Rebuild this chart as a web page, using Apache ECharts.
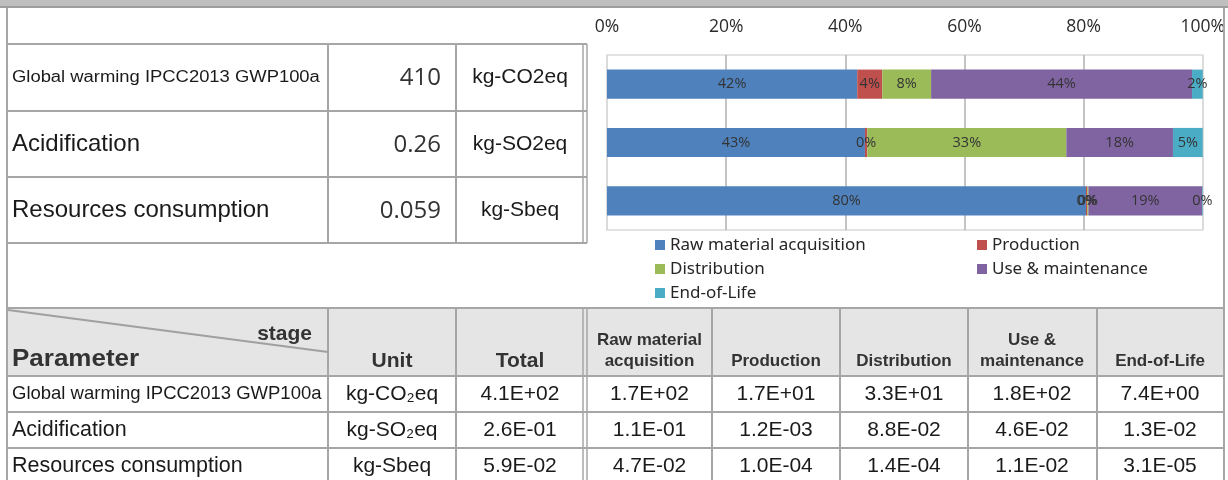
<!DOCTYPE html>
<html>
<head>
<meta charset="utf-8">
<script src="https://cdn.jsdelivr.net/npm/echarts@6/dist/echarts.min.js"></script>
<style>
html,body{margin:0;padding:0;background:#fff;}
#c{width:1228px;height:480px;}
</style>
</head>
<body>
<div id="c"></div>
<script>
// ---- data ----
const categories = ['Global warming IPCC2013 GWP100a', 'Acidification', 'Resources consumption'];
const stages = ['Raw material acquisition', 'Production', 'Distribution', 'Use & maintenance', 'End-of-Life'];
const rawShare = [42.0, 43.3, 80.4];
const productionShare = [4.2, 0.4, 0.2];
const distributionShare = [8.2, 33.4, 0.2];
const useShare = [43.8, 17.9, 19.1];
const eolShare = [1.8, 5.0, 0.1];
const xTicks = [0, 20, 40, 60, 80, 100];

const summaryValues = ['410', '0.26', '0.059'];
const summaryUnits = ['kg-CO2eq', 'kg-SO2eq', 'kg-Sbeq'];

const tableUnits = ['kg-CO\u2082eq', 'kg-SO\u2082eq', 'kg-Sbeq'];
const tableTotals = ['4.1E+02', '2.6E-01', '5.9E-02'];
const tableRaw = ['1.7E+02', '1.1E-01', '4.7E-02'];
const tableProduction = ['1.7E+01', '1.2E-03', '1.0E-04'];
const tableDistribution = ['3.3E+01', '8.8E-02', '1.4E-04'];
const tableUse = ['1.8E+02', '4.6E-02', '1.1E-02'];
const tableEol = ['7.4E+00', '1.3E-02', '3.1E-05'];
const headerStages = [['Raw material', 'acquisition'], ['Production'], ['Distribution'], ['Use &', 'maintenance'], ['End-of-Life']];

const colors = ['#4f81bd', '#c0504d', '#9bbb59', '#8064a2', '#4bacc6'];
const shares = [rawShare, productionShare, distributionShare, useShare, eolShare];

// ---- graphic table ----
const LINE = '#a6a6a6';
const g = [];
function hline(y, x1, x2, w, c) { g.push({type:'line', z:1, silent:true, shape:{x1:x1, y1:y, x2:x2, y2:y}, style:{stroke:c||LINE, lineWidth:w||2}}); }
function vline(x, y1, y2, w, c) { g.push({type:'line', z:1, silent:true, shape:{x1:x, y1:y1, x2:x, y2:y2}, style:{stroke:c||LINE, lineWidth:w||2}}); }
function txt(t, x, y, opt) {
  const o = opt || {};
  g.push({type:'text', z:5, silent:true, x:x, y:y, scaleX:o.sx||1,
    style:{text:t, fontFamily:o.ff||'"Liberation Sans", Arial, sans-serif', fontSize:o.fs||21,
      fontWeight:o.fw||'normal', fill:o.c||'#1a1a1a', align:o.al||'left', verticalAlign:'middle'}});
}

// title band
g.push({type:'rect', z:0, silent:true, shape:{x:0, y:0, width:1228, height:6}, style:{fill:'#bebfbe'}});
hline(7, 0, 1228, 2, '#9d9d9d');
// outer borders
vline(7, 8, 480);
vline(1224, 8, 480);

// top-left summary table
const topRows = [44, 111, 177, 243];
topRows.forEach(y => hline(y, 7, 587));
[328, 456].forEach(x => vline(x, 44, 243));
vline(583, 44, 243, 1.5);
vline(587, 44, 243, 1.5);
const topCenters = [77.5, 144, 210];
txt(categories[0], 12, topCenters[0], {fs:16, sx:1.15});
txt(categories[1], 12, topCenters[1], {fs:24});
txt(categories[2], 12, topCenters[2], {fs:24});
for (let i = 0; i < 3; i++) {
  txt(summaryValues[i], 441, topCenters[i] + 1, {ff:'"Open Sans", sans-serif', fs:24, al:'right', c:'#333'});
  txt(summaryUnits[i], 520, topCenters[i], {fs:21, al:'center'});
}

// bottom data table
g.push({type:'rect', z:0, silent:true, shape:{x:8, y:309, width:1215, height:67}, style:{fill:'#e4e5e4'}});
hline(308, 7, 1225);
[376, 412, 448].forEach(y => hline(y, 7, 1225));
[328, 456, 712, 840, 968, 1097].forEach(x => vline(x, 308, 480));
vline(583, 308, 480, 1.5);
vline(587, 308, 480, 1.5);
g.push({type:'line', z:1, silent:true, shape:{x1:8, y1:310, x2:328, y2:352}, style:{stroke:'#a0a0a0', lineWidth:2}});
txt('stage', 312, 334, {fw:'bold', fs:21, al:'right', c:'#333'});
txt('Parameter', 12, 360, {fw:'bold', fs:23, sx:1.13, c:'#333'});
txt('Unit', 392, 361, {fw:'bold', fs:21, al:'center', c:'#333'});
txt('Total', 520, 361, {fw:'bold', fs:21, al:'center', c:'#333'});
const colCenters = [649.5, 776, 904, 1032, 1160];
headerStages.forEach((lines, i) => {
  if (lines.length === 2) {
    txt(lines[0], colCenters[i], 340, {fw:'bold', fs:17, al:'center', c:'#333'});
    txt(lines[1], colCenters[i], 361, {fw:'bold', fs:17, al:'center', c:'#333'});
  } else {
    txt(lines[0], colCenters[i], 361, {fw:'bold', fs:17, al:'center', c:'#333'});
  }
});
const rowCenters = [394, 430, 466];
const stageCols = [tableRaw, tableProduction, tableDistribution, tableUse, tableEol];
for (let i = 0; i < 3; i++) {
  txt(categories[i], 12, rowCenters[i], {fs: i === 0 ? 18.5 : 21.5});
  txt(tableUnits[i], 392, rowCenters[i], {fs:21, al:'center'});
  txt(tableTotals[i], 520, rowCenters[i], {fs:21, al:'center'});
  stageCols.forEach((col, j) => txt(col[i], colCenters[j], rowCenters[i], {fs:21, al:'center'}));
}

// ---- chart ----
const series = stages.map((name, i) => ({
  name: name,
  type: 'bar',
  stack: 'total',
  barCategoryGap: '50%',
  data: shares[i],
  itemStyle: {color: colors[i]},
  label: {
    show: true,
    position: 'inside',
    formatter: p => Math.round(p.value) + '%',
    fontFamily: '"Open Sans", sans-serif',
    fontSize: 14.5,
    color: '#333'
  }
}));

const chart = echarts.init(document.getElementById('c'), null, {renderer:'canvas'});
chart.setOption({
  animation: false,
  color: colors,
  grid: {left: 607, right: 25, top: 55, bottom: 250, show: true, borderColor: '#d9d9d9', borderWidth: 1.5, backgroundColor: 'transparent'},
  xAxis: {
    type: 'value', position: 'top', min: xTicks[0], max: xTicks[xTicks.length - 1], interval: 20,
    axisLine: {show: false}, axisTick: {show: false},
    axisLabel: {formatter: '{value}%', margin: 19, fontFamily: '"Open Sans", sans-serif', fontSize: 17.5, color: '#2b2b2b'},
    splitLine: {show: true, lineStyle: {color: ['#d9d9d9', '#b0b0b0', '#b0b0b0', '#b0b0b0', '#b0b0b0', '#d9d9d9'], width: 1.5}}
  },
  yAxis: {
    type: 'category', data: categories, inverse: true,
    axisLine: {show: false}, axisTick: {show: false}, axisLabel: {show: false},
    splitLine: {show: false}
  },
  legend: [
    {data: [stages[0], stages[2], stages[4]], orient: 'vertical', left: 655, top: 236, padding: 0,
     icon: 'rect', itemWidth: 10, itemHeight: 10, itemGap: 6, selectedMode: false,
     textStyle: {fontFamily: '"Noto Sans", sans-serif', fontSize: 17, lineHeight: 18, color: '#262626'}},
    {data: [stages[1], stages[3]], orient: 'vertical', left: 977, top: 236, padding: 0,
     icon: 'rect', itemWidth: 10, itemHeight: 10, itemGap: 6, selectedMode: false,
     textStyle: {fontFamily: '"Noto Sans", sans-serif', fontSize: 17, lineHeight: 18, color: '#262626'}}
  ],
  graphic: g,
  series: series
});
</script>
</body>
</html>
